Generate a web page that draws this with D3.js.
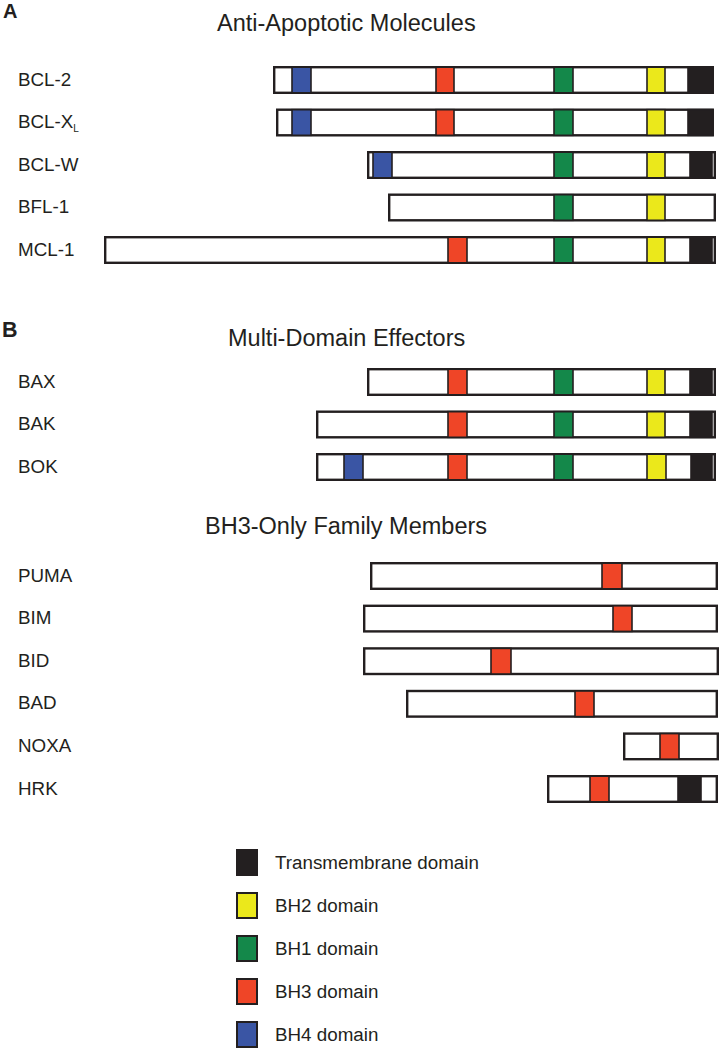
<!DOCTYPE html>
<html>
<head>
<meta charset="utf-8">
<script src="https://cdn.jsdelivr.net/npm/d3@7"></script>
<style>
  html, body { margin: 0; padding: 0; background: #fff; }
  svg { display: block; }
  text { font-family: "Liberation Sans", Arial, Helvetica, sans-serif; fill: #231f20; }
</style>
</head>
<body>
<svg id="chart" width="720" height="1050"></svg>
<script>
// ---- Data (positions in relative sequence units) ----
const groupAnti = ["BCL-2", "BCL-XL", "BCL-W", "BFL-1", "MCL-1"];
const groupMulti = ["BAX", "BAK", "BOK"];
const groupBH3 = ["PUMA", "BIM", "BID", "BAD", "NOXA", "HRK"];

const proteinStart = { "BCL-2": 169, "BCL-XL": 172, "BCL-W": 263, "BFL-1": 284, "MCL-1": 0,
  "BAX": 263, "BAK": 212, "BOK": 212,
  "PUMA": 266, "BIM": 259, "BID": 259, "BAD": 302, "NOXA": 519, "HRK": 443 };
const proteinEnd = { "BCL-2": 610, "BCL-XL": 610, "BCL-W": 612, "BFL-1": 612, "MCL-1": 612,
  "BAX": 612, "BAK": 612, "BOK": 612,
  "PUMA": 614, "BIM": 614, "BID": 615, "BAD": 614, "NOXA": 615, "HRK": 614 };

// [protein, domain, start, end]
const domains = [
  ["BCL-2", "BH4", 188, 207], ["BCL-2", "BH3", 332, 350], ["BCL-2", "BH1", 450, 469], ["BCL-2", "BH2", 543, 561], ["BCL-2", "TM", 584, 608],
  ["BCL-XL", "BH4", 188, 207], ["BCL-XL", "BH3", 332, 350], ["BCL-XL", "BH1", 450, 469], ["BCL-XL", "BH2", 543, 561], ["BCL-XL", "TM", 584, 608],
  ["BCL-W", "BH4", 269, 288], ["BCL-W", "BH1", 450, 469], ["BCL-W", "BH2", 543, 561], ["BCL-W", "TM", 586, 608],
  ["BFL-1", "BH1", 450, 469], ["BFL-1", "BH2", 543, 561],
  ["MCL-1", "BH3", 344, 363], ["MCL-1", "BH1", 450, 469], ["MCL-1", "BH2", 543, 561], ["MCL-1", "TM", 586, 608],
  ["BAX", "BH3", 344, 363], ["BAX", "BH1", 450, 469], ["BAX", "BH2", 543, 561], ["BAX", "TM", 586, 608],
  ["BAK", "BH3", 344, 363], ["BAK", "BH1", 450, 469], ["BAK", "BH2", 543, 561], ["BAK", "TM", 586, 608],
  ["BOK", "BH4", 240, 259], ["BOK", "BH3", 344, 363], ["BOK", "BH1", 450, 469], ["BOK", "BH2", 543, 562], ["BOK", "TM", 587, 608],
  ["PUMA", "BH3", 498, 518],
  ["BIM", "BH3", 509, 528],
  ["BID", "BH3", 387, 407],
  ["BAD", "BH3", 471, 490],
  ["NOXA", "BH3", 556, 575],
  ["HRK", "BH3", 486, 505], ["HRK", "TM", 574, 597]
];

const legendKeys = ["TM", "BH2", "BH1", "BH3", "BH4"];
const legendLabels = ["Transmembrane domain", "BH2 domain", "BH1 domain", "BH3 domain", "BH4 domain"];
const domainColors = ["#231f20", "#ebe81b", "#14884a", "#ef4527", "#3a55a4"];

const titles = ["Anti-Apoptotic Molecules", "Multi-Domain Effectors", "BH3-Only Family Members"];
const panelLetters = ["A", "B"];

// ---- Drawing ----
const svg = d3.select("#chart");
const x = d3.scaleLinear().domain([0, 612]).range([104, 716]);
const color = d3.scaleOrdinal().domain(legendKeys).range(domainColors);

const barH = 28, stroke = 2.4;

const groups = [
  { names: groupAnti, y: d3.scalePoint().domain(groupAnti).range([80, 250]), title: titles[0], tx: 217, ty: 31 },
  { names: groupMulti, y: d3.scalePoint().domain(groupMulti).range([382, 467]), title: titles[1], tx: 228, ty: 346 },
  { names: groupBH3, y: d3.scalePoint().domain(groupBH3).range([576, 789]), title: titles[2], tx: 205, ty: 534 }
];

// panel letters
svg.append("text").attr("x", 3).attr("y", 18).attr("font-size", 20).attr("font-weight", "bold").text(panelLetters[0]);
svg.append("text").attr("x", 2).attr("y", 337).attr("font-size", 21.5).attr("font-weight", "bold").text(panelLetters[1]);

groups.forEach(g => {
  svg.append("text").attr("x", g.tx).attr("y", g.ty).attr("font-size", 23.5).text(g.title);

  const rows = svg.append("g").selectAll("g").data(g.names).join("g")
    .attr("transform", d => `translate(0,${g.y(d)})`);

  // labels
  rows.append("text")
    .attr("x", 18).attr("y", 5.5)
    .attr("font-size", 18.8)
    .each(function(d) {
      const t = d3.select(this);
      if (d === "BCL-XL") {
        t.append("tspan").text("BCL-X");
        t.append("tspan").attr("font-size", 10).attr("dy", 4).text("L");
      } else {
        t.text(d);
      }
    });

  // protein bar
  rows.append("rect")
    .attr("x", d => x(proteinStart[d]) + stroke / 2)
    .attr("y", -barH / 2 + stroke / 2)
    .attr("width", d => x(proteinEnd[d]) - x(proteinStart[d]) - stroke)
    .attr("height", barH - stroke)
    .attr("fill", "#fff")
    .attr("stroke", "#231f20")
    .attr("stroke-width", stroke);

  // domains
  rows.each(function(name) {
    d3.select(this).selectAll("rect.dom")
      .data(domains.filter(d => d[0] === name))
      .join("rect")
      .attr("class", "dom")
      .attr("x", d => x(d[2]))
      .attr("y", -barH / 2 + stroke / 2)
      .attr("width", d => x(d[3]) - x(d[2]))
      .attr("height", barH - stroke)
      .attr("fill", d => color(d[1]))
      .attr("stroke", "#231f20")
      .attr("stroke-width", 1.6);
  });
});

// legend
const legendY = d3.scalePoint().domain(legendKeys).range([862.5, 1034.5]);
const leg = svg.append("g").selectAll("g").data(legendKeys).join("g")
  .attr("transform", d => `translate(0,${legendY(d)})`);
leg.append("rect")
  .attr("x", 237).attr("y", -12.5).attr("width", 20).attr("height", 25)
  .attr("fill", d => color(d))
  .attr("stroke", "#231f20").attr("stroke-width", 2);
leg.append("text")
  .attr("x", 275).attr("y", 6.5)
  .attr("font-size", 18.8)
  .text((d, i) => legendLabels[i]);
</script>
</body>
</html>
